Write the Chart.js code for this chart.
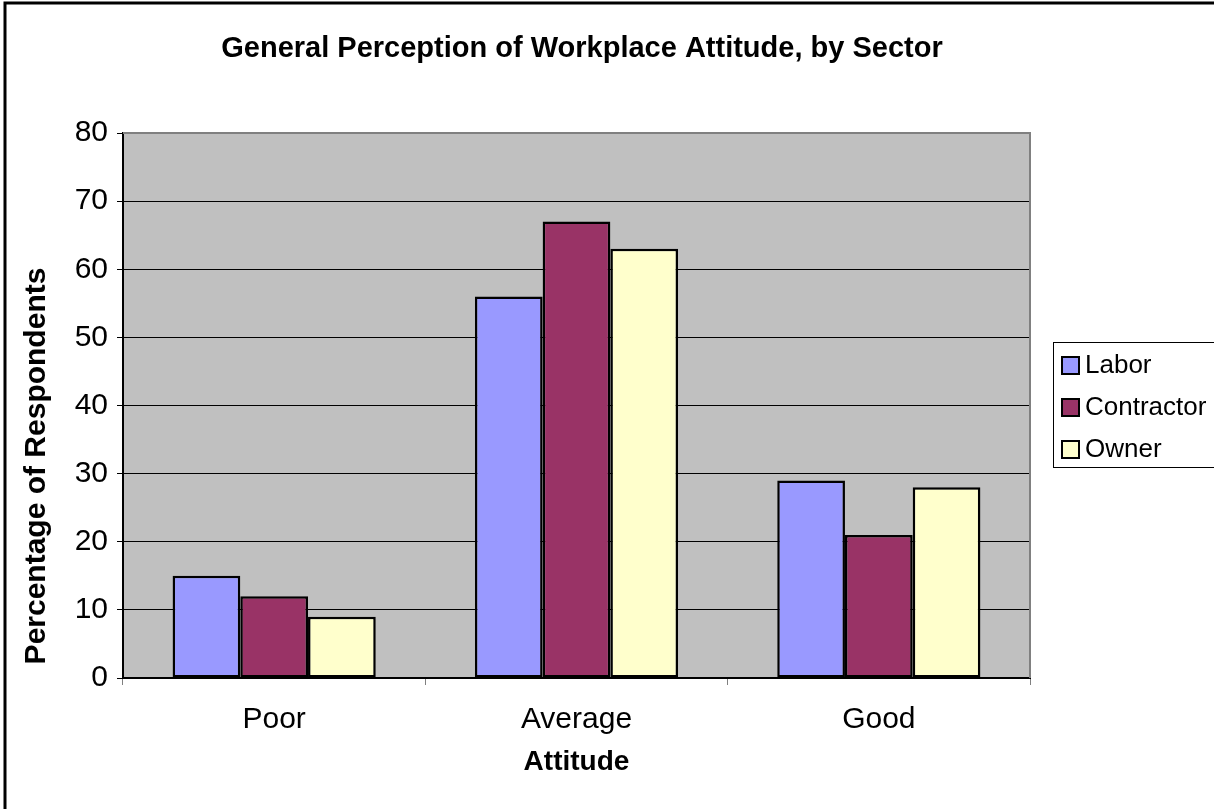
<!DOCTYPE html>
<html>
<head>
<meta charset="utf-8">
<script src="https://cdn.jsdelivr.net/npm/chart.js@4.4.1/dist/chart.umd.min.js"></script>
<style>
  html, body { margin: 0; padding: 0; background: #fff; }
  #wrap { width: 1214px; height: 809px; position: relative; }
</style>
</head>
<body>
<div id="wrap"><canvas id="chart" width="1214" height="809"></canvas></div>
<script>
const categories = ['Poor', 'Average', 'Good'];
const labor = [15, 56, 29];
const contractor = [12, 67, 21];
const owner = [9, 63, 28];
const yTicks = [0, 10, 20, 30, 40, 50, 60, 70, 80];

const FONT = "'Liberation Sans', Arial, sans-serif";

// outer frame, title, y-axis caption and boxed legend
const decorations = {
  id: 'decorations',
  beforeDraw(chart) {
    const ctx = chart.ctx;
    const a = chart.chartArea;
    ctx.save();
    ctx.fillStyle = '#ffffff';
    ctx.fillRect(0, 0, chart.width, chart.height);
    ctx.fillStyle = '#c0c0c0';
    ctx.fillRect(a.left, a.top, a.right - a.left, a.bottom - a.top);
    ctx.restore();
  },
  afterDraw(chart) {
    const ctx = chart.ctx;
    const a = chart.chartArea;
    ctx.save();
    // plot border (top / right)
    ctx.strokeStyle = '#808080';
    ctx.lineWidth = 2;
    ctx.beginPath();
    ctx.moveTo(a.left, a.top);
    ctx.lineTo(a.right, a.top);
    ctx.lineTo(a.right, a.bottom);
    ctx.stroke();

    // frame
    ctx.strokeStyle = '#000';
    ctx.lineWidth = 3;
    ctx.beginPath();
    ctx.moveTo(5, chart.height + 5);
    ctx.lineTo(5, 3);
    ctx.lineTo(chart.width + 5, 3);
    ctx.stroke();

    // title
    ctx.fillStyle = '#000';
    ctx.font = 'bold 29px ' + FONT;
    ctx.textAlign = 'center';
    ctx.textBaseline = 'middle';
    ctx.fillText('General Perception of Workplace Attitude, by Sector', 582, 49);

    // y-axis caption
    ctx.save();
    ctx.translate(37, 466);
    ctx.rotate(-Math.PI / 2);
    ctx.font = 'bold 30px ' + FONT;
    ctx.fillText('Percentage of Respondents', 0, 0);
    ctx.restore();

    // legend
    const lx = 1053, ly = 342, lw = 180, lh = 125;
    ctx.lineWidth = 1;
    ctx.strokeStyle = '#000';
    ctx.strokeRect(lx + 0.5, ly + 0.5, lw, lh);
    ctx.font = '26px ' + FONT;
    ctx.textAlign = 'left';
    chart.data.datasets.forEach((ds, i) => {
      const cy = 365 + i * 42;
      ctx.fillStyle = ds.backgroundColor;
      ctx.fillRect(1062, cy - 8, 17, 17);
      ctx.lineWidth = 2;
      ctx.strokeRect(1062, cy - 8, 17, 17);
      ctx.fillStyle = '#000';
      ctx.fillText(ds.label, 1085, cy + 1);
    });
    ctx.restore();
  }
};

const barStyle = { borderColor: '#000', borderWidth: 2.5, borderSkipped: false };

new Chart(document.getElementById('chart'), {
  type: 'bar',
  data: {
    labels: categories,
    datasets: [
      { label: 'Labor', data: labor, backgroundColor: '#9999ff', ...barStyle },
      { label: 'Contractor', data: contractor, backgroundColor: '#993366', ...barStyle },
      { label: 'Owner', data: owner, backgroundColor: '#ffffcc', ...barStyle }
    ]
  },
  options: {
    responsive: false,
    animation: false,
    devicePixelRatio: 1,
    layout: { padding: { left: 0, top: 133, right: 184, bottom: 0 } },
    datasets: { bar: { categoryPercentage: 0.672, barPercentage: 1.0 } },
    plugins: { legend: { display: false }, title: { display: false }, tooltip: { enabled: false } },
    scales: {
      x: {
        afterFit(s) { s.height = 131; },
        grid: { offset: true, display: true, drawOnChartArea: false, color: '#808080', tickLength: 7, tickWidth: 1 },
        border: { display: true, color: '#000', width: 2 },
        ticks: { color: '#000', font: { family: FONT, size: 30 }, padding: 17 },
        title: { display: true, text: 'Attitude', color: '#000', font: { family: FONT, size: 28, weight: 'bold' }, padding: { top: 4, bottom: 30 } }
      },
      y: {
        min: 0,
        max: 80,
        afterFit(s) { s.width = 123; },
        afterBuildTicks(s) { s.ticks = yTicks.map(v => ({ value: v })); },
        grid: {
          color: ctx => (ctx.tick && (ctx.tick.value === 0 || ctx.tick.value === 80)) ? 'rgba(0,0,0,0)' : '#000',
          lineWidth: 1,
          tickColor: '#000',
          tickLength: 6
        },
        border: { display: true, color: '#000', width: 2 },
        ticks: { color: '#000', font: { family: FONT, size: 30 }, padding: 9 },
        title: { display: false }
      }
    }
  },
  plugins: [decorations]
});
</script>
</body>
</html>
